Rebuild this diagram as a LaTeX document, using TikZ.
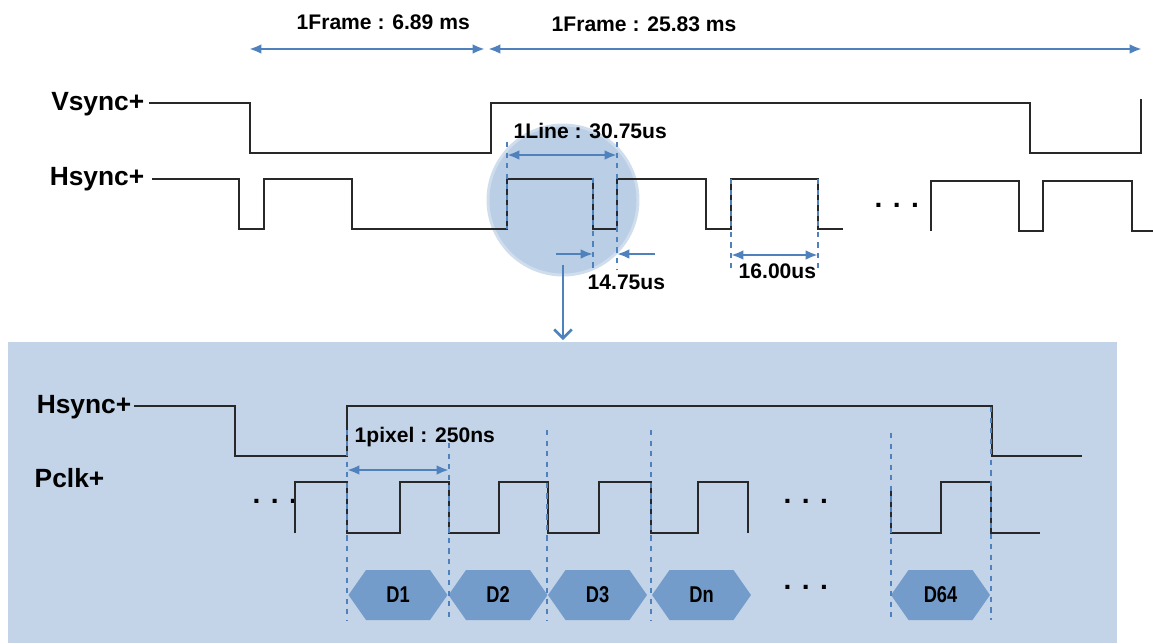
\documentclass[tikz,border=0pt]{standalone}
\usepackage{fontspec}
\setmainfont{Liberation Sans}
\usetikzlibrary{arrows,arrows.meta,shapes,positioning}
\definecolor{dimblue}{RGB}{79,129,189}
\definecolor{panelblue}{RGB}{195,212,232}
\definecolor{circblue}{RGB}{186,206,229}
\definecolor{hexblue}{RGB}{116,156,202}
\definecolor{wave}{RGB}{40,40,40}

\begin{document}
\begin{tikzpicture}[>={Latex[length=7pt,width=5.5pt]},thick,x=0.02cm,y=-0.02cm]
		\tikzstyle{sig}=[draw=wave,line width=1.1pt]
		\tikzstyle{dim}=[dimblue,line width=1.6pt,<->]
		\tikzstyle{dim_half}=[dimblue,line width=1.3pt,->]
		\tikzstyle{guide}=[dimblue,dashed,line width=0.9pt]
		\tikzstyle{sig_label}=[inner sep=0pt,font=\bfseries\fontsize{15}{18}\selectfont]
		\tikzstyle{dim_label}=[inner sep=0pt,font=\bfseries\fontsize{12}{14}\selectfont]
		\tikzstyle{more}=[inner sep=0pt,font=\bfseries\fontsize{16}{18}\selectfont]
		\tikzstyle{pixel}=[signal,signal to=east and west,signal pointer angle=110,fill=hexblue,inner sep=0pt,minimum width=1.98cm,minimum height=1cm,font=\bfseries\fontsize{13}{15}\selectfont]
		\newcommand\narrow[1]{\scalebox{0.8}[1]{#1}}
		
		\useasboundingbox (0,0) rectangle (1153,643);
		
		% zoom panel and magnifier
		\fill[panelblue] (8,342) rectangle (1117,643);
		\fill[circblue!70!white] (563,200) circle [radius=1.53cm];
		\fill[circblue] (563,200) circle [radius=1.47cm];
		
		% frame lengths
		\coordinate (frame1_start) at (249,49);
		\coordinate (frame1_end) at (485,49);
		\coordinate (frame2_start) at (488,49);
		\coordinate (frame2_end) at (1142,49);
		\draw[dim] (frame1_start) -- (frame1_end);
		\draw[dim] (frame2_start) -- (frame2_end);
		\node[dim_label,anchor=base west] (frame1_label) at (296,29) {1Frame : 6.89 ms};
		\node[dim_label,anchor=base west] (frame2_label) at (551,31) {1Frame : 25.83 ms};
		
		% Vsync / Hsync
		\node[sig_label,anchor=base east] (vsync_label) at (145,110) {Vsync+};
		\node[sig_label,anchor=base east] (hsync_label) at (145,185) {Hsync+};
		\draw[sig] (149,103) -- (250,103) -- (250,153) -- (491,153) -- (491,103) -- (1030,103) -- (1030,153) -- (1141,153) -- (1141,99);
		\draw[sig] (152,179) -- (239,179) -- (239,229) -- (264,229) -- (264,179) -- (352,179) -- (352,229) -- (507,229) -- (507,179) -- (593,179) -- (593,229) -- (617,229) -- (617,179) -- (706,179) -- (706,229) -- (731,229) -- (731,179) -- (818,179) -- (818,229) -- (843,229);
		\node[more,anchor=base west] (dots_top) at (874,207) {. . .};
		\draw[sig] (931,231) -- (931,181) -- (1019,181) -- (1019,231) -- (1043,231) -- (1043,181) -- (1132,181) -- (1132,231) -- (1153,231);
		
		% line, porch and pulse
		\draw[guide] (507,142) -- (507,229);
		\draw[guide] (593,178) -- (593,270);
		\draw[guide] (617,142) -- (617,270);
		\draw[guide] (731,179) -- (731,268);
		\draw[guide] (818,179) -- (818,268);
		\coordinate (line_start) at (507,155);
		\coordinate (line_end) at (617,155);
		\draw[dim] (line_start) -- (line_end);
		\node[dim_label,anchor=base west] (line_label) at (513,138) {1Line : 30.75us};
		\coordinate (porch_in) at (556,254);
		\coordinate (porch_left) at (593,254);
		\coordinate (porch_out) at (655,254);
		\coordinate (porch_right) at (617,254);
		\draw[dim_half] (porch_in) -- (porch_left);
		\draw[dim_half] (porch_out) -- (porch_right);
		\node[dim_label,anchor=base west] (porch_label) at (587,289) {14.75us};
		\coordinate (pulse_start) at (731,255);
		\coordinate (pulse_end) at (818,255);
		\draw[dim] (pulse_start) -- (pulse_end);
		\node[dim_label,anchor=base west] (pulse_label) at (738,278) {16.00us};
		
		% magnifier to panel
		\coordinate (zoom_from) at (563,265);
		\coordinate (zoom_to) at (563,340);
		\draw[dimblue,line width=1.5pt,-{Straight Barb[length=5pt,width=10pt]}] (zoom_from) -- (zoom_to);
		
		% Hsync / Pclk in the panel
		\node[sig_label,anchor=base east] (hsync_zoom_label) at (132,413) {Hsync+};
		\node[sig_label,anchor=base east] (pclk_label) at (105,487) {Pclk+};
		\draw[sig] (134,406) -- (235,406) -- (235,456) -- (347,456) -- (347,406) -- (992,406) -- (992,456) -- (1082,456);
		\node[more,anchor=base west] (dots_pclk_left) at (252,503) {. . .};
		\draw[sig] (295,533) -- (295,482) -- (347,482) -- (347,533) -- (400,533) -- (400,482) -- (449,482) -- (449,533) -- (499,533) -- (499,482) -- (548,482) -- (548,533) -- (599,533) -- (599,482) -- (651,482) -- (651,533) -- (698,533) -- (698,482) -- (748,482) -- (748,533);
		\node[more,anchor=base west] (dots_pclk_mid) at (783,503) {. . .};
		\draw[sig] (891,488) -- (891,533) -- (941,533) -- (941,482) -- (991,482) -- (991,533) -- (1040,533);
		
		% pixel data
		\node[pixel] (d1) at (398,595) {\narrow{D1}};
		\node[pixel] (d2) at (498,595) {\narrow{D2}};
		\node[pixel] (d3) at (597.5,595) {\narrow{D3}};
		\node[pixel] (dn) at (701.5,595) {\narrow{Dn}};
		\node[more,anchor=base west] (dots_data) at (783,589) {. . .};
		\node[pixel] (d64) at (940.5,595) {\narrow{D64}};
		\foreach \gx/\gy in {347/430,449/443,547/430,651/430,891/433,991/407}
		\draw[guide] (\gx,\gy) -- (\gx,620);
		
		\coordinate (pixel_start) at (347,470);
		\coordinate (pixel_end) at (449,470);
		\draw[dim] (pixel_start) -- (pixel_end);
		\node[dim_label,anchor=base west] (pixel_label) at (354,442) {1pixel : 250ns};
	\end{tikzpicture}
\end{document}
